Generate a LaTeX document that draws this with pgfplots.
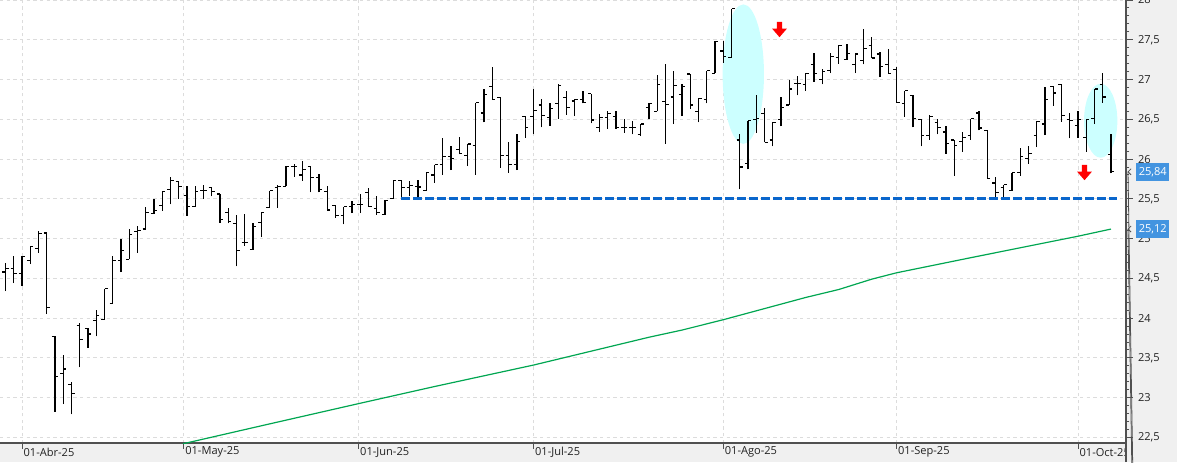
\documentclass[border=0pt]{standalone}
\usepackage{fontspec}
\setmainfont{Open Sans}
\usepackage{pgfplots}
\pgfplotsset{compat=1.18}
\usepackage{pgfplotstable}
\definecolor{gridc}{HTML}{DCDCDC}
\definecolor{axc}{HTML}{505050}
\definecolor{bandc}{HTML}{F0F0F0}
\definecolor{mac}{HTML}{00A651}
\definecolor{supc}{HTML}{0A66CC}
\definecolor{boxc}{HTML}{4394E0}
\definecolor{ellc}{HTML}{CCFFFF}
\definecolor{txtc}{HTML}{222222}
\pgfdeclareplotmark{otick}{\pgfpathmoveto{\pgfqpoint{-2.3pt}{0pt}}\pgfpathlineto{\pgfqpoint{0pt}{0pt}}\pgfusepathqstroke}
\pgfdeclareplotmark{ctick}{\pgfpathmoveto{\pgfqpoint{0pt}{0pt}}\pgfpathlineto{\pgfqpoint{2.3pt}{0pt}}\pgfusepathqstroke}
\newcommand{\downarrowat}[2]{%
  \fill[red] ([xshift=-1.9pt]axis cs:#1,#2) -- ([xshift=1.9pt]axis cs:#1,#2)
   -- ([xshift=1.9pt,yshift=-5pt]axis cs:#1,#2) -- ([xshift=5.6pt,yshift=-5pt]axis cs:#1,#2)
   -- ([yshift=-11.5pt]axis cs:#1,#2) -- ([xshift=-5.6pt,yshift=-5pt]axis cs:#1,#2)
   -- ([xshift=-1.9pt,yshift=-5pt]axis cs:#1,#2) -- cycle;}
\pgfplotstableread{
i o h l c
-3 24.50 24.60 24.35 24.47
-2 24.58 24.69 24.34 24.62
-1 24.62 24.78 24.44 24.56
0 24.56 24.78 24.41 24.78
1 24.72 24.90 24.68 24.90
2 24.88 25.10 24.82 25.06
3 25.07 25.08 24.05 24.13
4 23.77 23.77 22.82 23.27
5 23.30 23.54 22.92 23.36
6 23.17 23.20 22.79 23.05
7 23.91 23.94 23.38 23.73
8 23.87 23.88 23.63 23.80
9 23.97 24.10 23.77 24.03
10 23.98 24.37 23.98 24.37
11 24.18 24.78 24.18 24.72
12 24.72 25.00 24.58 24.85
13 24.74 25.12 24.74 25.05
14 25.09 25.16 24.82 25.10
15 25.12 25.40 25.12 25.33
16 25.32 25.50 25.31 25.35
17 25.42 25.59 25.35 25.59
18 25.62 25.78 25.43 25.73
19 25.72 25.72 25.50 25.66
20 25.54 25.66 25.29 25.40
21 25.40 25.66 25.40 25.59
22 25.60 25.68 25.50 25.60
23 25.64 25.65 25.53 25.59
24 25.56 25.56 25.20 25.24
25 25.33 25.39 25.19 25.22
26 25.19 25.30 24.65 24.85
27 24.95 25.31 24.91 24.95
28 24.86 25.19 24.86 25.15
29 25.20 25.33 25.02 25.33
30 25.39 25.60 25.39 25.60
31 25.64 25.68 25.39 25.66
32 25.66 25.91 25.66 25.91
33 25.91 25.94 25.78 25.91
34 25.80 25.98 25.73 25.87
35 25.91 25.91 25.58 25.77
36 25.77 25.81 25.58 25.62
37 25.59 25.66 25.36 25.36
38 25.42 25.42 25.26 25.29
39 25.29 25.40 25.18 25.40
40 25.40 25.47 25.32 25.43
41 25.43 25.56 25.32 25.43
42 25.58 25.64 25.40 25.40
43 25.38 25.54 25.30 25.33
44 25.30 25.48 25.30 25.48
45 25.50 25.73 25.50 25.73
46 25.73 25.74 25.52 25.64
47 25.64 25.72 25.53 25.67
48 25.66 25.74 25.52 25.65
49 25.60 25.83 25.60 25.83
50 25.80 25.93 25.70 25.93
51 25.93 26.26 25.80 26.03
52 26.03 26.17 25.86 26.01
53 26.12 26.28 26.06 26.07
54 26.04 26.19 25.91 26.19
55 26.17 26.71 25.80 26.71
56 26.58 26.88 26.46 26.81
57 26.91 27.16 26.75 26.75
58 26.77 26.77 25.89 26.04
59 26.04 26.22 25.83 25.93
60 25.93 26.32 25.86 26.22
61 26.54 26.54 26.27 26.40
62 26.54 26.88 26.31 26.61
63 26.68 26.75 26.40 26.55
64 26.52 26.71 26.42 26.64
65 26.70 26.94 26.51 26.93
66 26.77 26.85 26.56 26.65
67 26.73 26.75 26.54 26.75
68 26.75 26.85 26.70 26.71
69 26.82 26.82 26.45 26.49
70 26.40 26.57 26.34 26.52
71 26.52 26.60 26.38 26.57
72 26.54 26.60 26.38 26.40
73 26.40 26.50 26.33 26.40
74 26.40 26.48 26.31 26.40
75 26.31 26.44 26.29 26.44
76 26.65 26.70 26.50 26.70
77 26.60 27.06 26.60 26.94
78 26.72 27.19 26.19 26.69
79 26.78 27.11 26.44 26.92
80 26.81 26.94 26.54 26.91
81 27.07 27.07 26.63 26.68
82 26.60 26.77 26.46 26.76
83 26.75 27.11 26.70 27.11
84 27.08 27.48 27.08 27.48
85 27.36 27.49 27.21 27.29
86 27.28 27.89 27.28 27.89
87 26.24 26.31 25.62 25.90
88 25.94 26.48 25.87 26.48
89 26.50 26.80 26.33 26.51
90 26.57 26.64 26.21 26.21
91 26.24 26.46 26.16 26.46
92 26.50 26.78 26.41 26.65
93 26.68 26.99 26.68 26.88
94 26.95 27.04 26.80 26.95
95 26.94 27.08 26.86 27.08
96 27.19 27.33 26.97 27.08
97 27.00 27.13 26.94 27.10
98 27.11 27.33 27.08 27.29
99 27.28 27.43 27.20 27.43
100 27.25 27.45 27.25 27.33
101 27.19 27.32 27.08 27.32
102 27.24 27.63 27.19 27.39
103 27.43 27.53 27.27 27.27
104 27.32 27.34 27.03 27.16
105 27.19 27.39 27.08 27.08
106 27.13 27.16 26.71 26.71
107 26.70 26.86 26.53 26.86
108 26.80 26.81 26.40 26.51
109 26.50 26.50 26.16 26.30
110 26.30 26.55 26.24 26.54
111 26.46 26.51 26.31 26.40
112 26.34 26.42 26.07 26.20
113 26.24 26.24 25.79 26.17
114 26.22 26.34 26.09 26.27
115 26.30 26.51 26.24 26.51
116 26.58 26.61 26.36 26.39
117 26.36 26.36 25.76 25.76
118 25.70 25.77 25.52 25.58
119 25.64 25.68 25.52 25.68
120 25.60 25.83 25.60 25.83
121 25.83 26.14 25.79 26.03
122 26.01 26.16 25.94 26.07
123 26.30 26.48 26.15 26.47
124 26.44 26.91 26.30 26.75
125 26.91 26.92 26.67 26.83
126 26.94 26.94 26.47 26.55
127 26.50 26.58 26.26 26.48
128 26.42 26.60 26.27 26.50
129 26.27 26.50 26.09 26.50
130 26.51 26.88 26.44 26.88
131 26.94 27.08 26.71 26.78
132 26.06 26.31 25.82 25.84
}\ohlc
\pgfplotstableread{
i v
19.5 22.42
30 22.67
41 22.93
50 23.14
62 23.41
76 23.76
80 23.85
85 23.98
95 24.26
99 24.36
103 24.49
106 24.57
115 24.76
128 25.03
132 25.12
}\ma
\begin{document}
\begin{tikzpicture}
\useasboundingbox (0,0) rectangle (882.75pt,346.5pt);
\fill[bandc] (0,0) rectangle (882.75pt,14.25pt);
\begin{axis}[
  at={(0pt,14.25pt)}, anchor=south west, scale only axis,
  width=844.5pt, height=332.25pt,
  xmin=-2.667, xmax=133.82, ymin=22.43, ymax=28.0,
  axis x line*=bottom, axis y line*=right,
  axis line style={axc, line width=0.9pt, -},
  xtick={0,19.6,40.8,62,85,106,128},
  xticklabels={01-Abr-25,01-May-25,01-Jun-25,01-Jul-25,01-Ago-25,01-Sep-25,01-Oct-25},
  ytick={22.5,23,...,28}, yticklabels={}, ytick style={draw=none},
  xmajorgrids, ymajorgrids,
  grid style={gridc, line width=0.75pt, dash pattern=on 2.5pt off 2.5pt},
  tick align=outside, major tick length=4.5pt,
  xtick style={axc, line width=0.75pt},
  xticklabel style={anchor=west, font=\fontsize{8.3}{10}\selectfont, text=txtc, inner xsep=1pt, yshift=-2.3pt},
]
\fill[ellc] (axis cs:87.43,27.068) ellipse [x radius=15.5pt, y radius=52.3pt];
\fill[ellc] (axis cs:130.75,26.482) ellipse [x radius=12.5pt, y radius=27.75pt];
\addplot[mac, line width=0.9pt] table[x=i, y=v] {\ma};
\addplot[supc, line width=2.25pt, dash pattern=on 6.75pt off 2.25pt] coordinates {(45.94,25.5) (132.73,25.5)};
\addplot[draw=none, mark=none, error bars/.cd, y dir=plus, y explicit, error mark=none,
  error bar style={line width=0.9pt, black}]
  table[x=i, y=l, y error expr=\thisrow{h}-\thisrow{l}] {\ohlc};
\addplot[only marks, mark=otick, mark options={line width=0.9pt, black}] table[x=i, y=o] {\ohlc};
\addplot[only marks, mark=ctick, mark options={line width=0.9pt, black}] table[x=i, y=c] {\ohlc};
\downarrowat{91.82}{27.725}
\downarrowat{128.79}{25.927}
\end{axis}
\fill[bandc] (844.5pt,0) rectangle (882.75pt,346.5pt);
\draw[axc, line width=0.9pt] (844.5pt,0) -- (844.5pt,346.5pt);
\begin{axis}[
  at={(0pt,14.25pt)}, anchor=south west, scale only axis,
  width=844.5pt, height=332.25pt,
  xmin=-2.667, xmax=133.82, ymin=22.43, ymax=28.0,
  axis x line=none, axis y line*=right,
  axis line style={axc, line width=0.9pt, -},
  xtick=\empty,
  ytick={22.5,23,...,28}, minor y tick num=4,
  tick align=outside, major tick length=5pt, minor tick length=2.5pt,
  ytick style={axc, line width=0.75pt},
  /pgf/number format/.cd, use comma, fixed, precision=1, assume math mode=true, /pgfplots/.cd,
  yticklabel style={anchor=west, font=\fontsize{8.3}{10}\selectfont, text=txtc, xshift=0.5pt},
  clip=false,
]
\addplot[draw=none] coordinates {(0,25)};
\node[fill=boxc, text=white, anchor=west, font=\fontsize{8.3}{10}\selectfont, inner xsep=1.5pt, inner ysep=0pt, minimum height=13.5pt, minimum width=24.75pt] at ([xshift=7.5pt]axis cs:133.82,25.84) {25,84};
\node[fill=boxc, text=white, anchor=west, font=\fontsize{8.3}{10}\selectfont, inner xsep=1.5pt, inner ysep=0pt, minimum height=13.5pt, minimum width=24.75pt] at ([xshift=7.5pt]axis cs:133.82,25.12) {25,12};
\draw[axc, line width=0.6pt] ([xshift=1.5pt]axis cs:133.82,25.84) -- ++(5pt,0);
\draw[axc, line width=0.6pt] ([xshift=3.8pt,yshift=2.3pt]axis cs:133.82,25.84) -- ([xshift=1.5pt]axis cs:133.82,25.84) -- ([xshift=3.8pt,yshift=-2.3pt]axis cs:133.82,25.84);
\draw[axc, line width=0.6pt] ([xshift=1.5pt]axis cs:133.82,25.12) -- ++(5pt,0);
\draw[axc, line width=0.6pt] ([xshift=3.8pt,yshift=2.3pt]axis cs:133.82,25.12) -- ([xshift=1.5pt]axis cs:133.82,25.12) -- ([xshift=3.8pt,yshift=-2.3pt]axis cs:133.82,25.12);
\end{axis}
\end{tikzpicture}
\end{document}
